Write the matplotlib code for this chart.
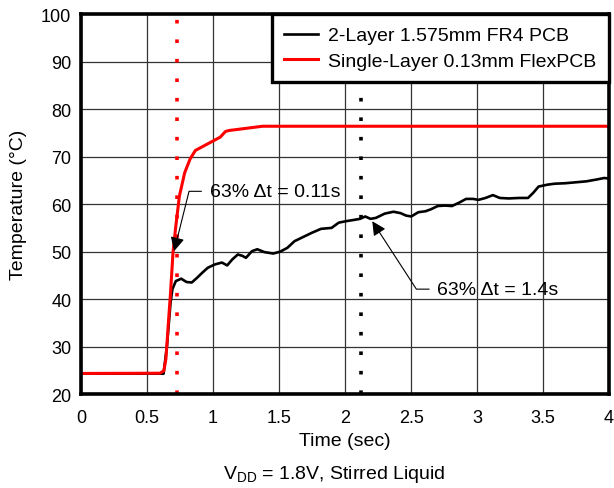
import numpy as np
import matplotlib
matplotlib.use("Agg")
import matplotlib.pyplot as plt

plt.rcParams['font.family'] = ['Liberation Sans', 'DejaVu Sans']
plt.rcParams['mathtext.default'] = 'regular'

# single-layer flex PCB (red)
flex_t = [0, 0.598, 0.627, 0.643, 0.66, 0.678, 0.697, 0.718, 0.745, 0.785, 0.826,
          0.866, 0.933, 1.054, 1.094, 1.12, 1.375, 4.0]
flex_T = [24.35, 24.4, 24.9, 27.4, 34.4, 41.4, 50.0, 55.4, 61.7, 66.6, 69.5,
          71.3, 72.3, 74.1, 75.3, 75.5, 76.4, 76.4]

# 2-layer FR4 PCB (black)
fr4_t = [0, 0.625, 0.651, 0.678, 0.692, 0.718, 0.759, 0.799, 0.839, 0.879, 0.920,
         0.96, 1.013, 1.067, 1.107, 1.147, 1.188, 1.223, 1.249, 1.295, 1.335, 1.389,
         1.456, 1.509, 1.563, 1.617, 1.684, 1.751, 1.818, 1.898, 1.952, 2.005, 2.072,
         2.113, 2.153, 2.193, 2.233, 2.30, 2.367, 2.421, 2.461, 2.501, 2.555, 2.609,
         2.649, 2.702, 2.756, 2.810, 2.863, 2.917, 2.970, 3.01, 3.064, 3.12, 3.172,
         3.239, 3.319, 3.386, 3.426, 3.466, 3.533, 3.587, 3.668, 3.748, 3.828, 3.909,
         3.962, 4.0]
fr4_T = [24.3, 24.3, 30.2, 39.3, 42.1, 43.8, 44.3, 43.6, 43.5, 44.5, 45.6,
         46.6, 47.3, 47.7, 47.1, 48.4, 49.4, 49.1, 48.7, 50.1, 50.5, 49.9,
         49.6, 50.0, 50.8, 52.2, 53.1, 54.0, 54.8, 55.0, 56.1, 56.4, 56.7,
         56.9, 57.4, 56.9, 57.1, 58.0, 58.4, 58.1, 57.6, 57.4, 58.3, 58.5,
         58.9, 59.6, 59.7, 59.6, 60.3, 61.1, 61.1, 60.9, 61.3, 61.9, 61.3,
         61.2, 61.3, 61.3, 62.4, 63.7, 64.1, 64.3, 64.4, 64.6, 64.8, 65.2,
         65.5, 65.4]

tau_flex = 0.727
tau_fr4 = 2.118

x_ticks = np.arange(0, 4.01, 0.5)
x_labels = ['0', '0.5', '1', '1.5', '2', '2.5', '3', '3.5', '4']
y_ticks = np.arange(20, 101, 10)

# annotation: (label, arrow tip, text anchor, diagonal angle in degrees)
notes = [
    ('63% Δt = 0.11s', (0.705, 50.1), (0.975, 62.7), 76),
    ('63% Δt = 1.4s', (2.206, 56.4), (2.70, 42.1), -57),
]

fs = 14
tick_fs = 13

fig = plt.figure(figsize=(6.14, 4.89), dpi=100)
ax = fig.add_axes([0.132, 0.192, 0.860, 0.777])

ax.axvline(tau_flex, color='red', lw=2.6, linestyle=(0, (1, 4.4)), zorder=2)
ax.axvline(tau_fr4, color='black', lw=2.6, linestyle=(0, (1, 4.4)), zorder=2)

ax.plot(fr4_t, fr4_T, color='black', lw=1.9, label='2-Layer 1.575mm FR4 PCB', zorder=3)
ax.plot(flex_t, flex_T, color='red', lw=2.2, label='Single-Layer 0.13mm FlexPCB', zorder=4)

for label, tip, txt, ang in notes:
    ax.annotate(label, xy=tip, xytext=txt, fontsize=fs, ha='left', va='center',
                arrowprops=dict(arrowstyle='-|>,head_length=0.6,head_width=0.3',
                                color='black', lw=0.8, shrinkA=4, shrinkB=0,
                                relpos=(0, 0.5),
                                connectionstyle=f'angle,angleA=0,angleB={ang},rad=0'),
                zorder=6)

ax.set_xlim(0, 4)
ax.set_ylim(20, 100)
ax.set_xticks(x_ticks)
ax.set_xticklabels(x_labels)
ax.set_yticks(y_ticks)
ax.tick_params(length=0, labelsize=tick_fs)
ax.tick_params(axis='x', pad=11)
ax.tick_params(axis='y', pad=7)
ax.grid(True, color='#333333', lw=0.9)
ax.set_axisbelow(True)
for s in ax.spines.values():
    s.set_linewidth(2.6)
    s.set_zorder(7)

ax.set_xlabel('Time (sec)', fontsize=fs, labelpad=4)
ax.set_ylabel('Temperature (°C)', fontsize=fs, labelpad=10)

leg = ax.legend(loc='upper right', bbox_to_anchor=(1, 1), borderaxespad=0,
                fontsize=fs, fancybox=False, framealpha=1, edgecolor='black',
                handlelength=1.75, handletextpad=0.5, labelspacing=0.4,
                borderpad=0.65)
leg.get_frame().set_linewidth(2.4)
leg.set_zorder(8)

fig.text(0.545, 0.030, r'V$_{DD}$ = 1.8V, Stirred Liquid', fontsize=fs,
         ha='center', va='center')

fig.savefig('out.png', dpi=100)
